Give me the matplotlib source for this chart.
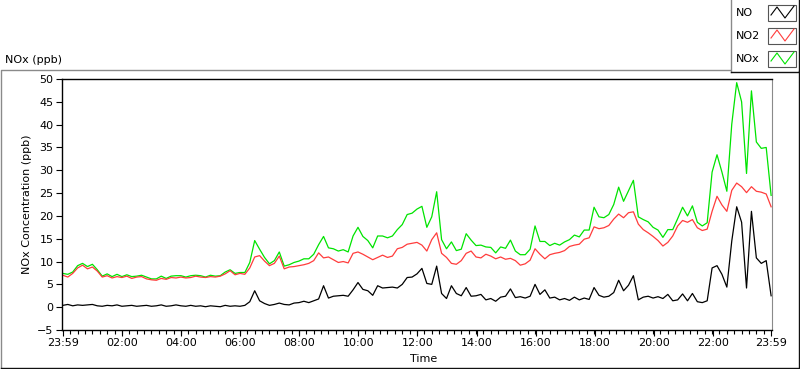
import numpy as np
import matplotlib.pyplot as plt
from matplotlib.lines import Line2D
from matplotlib.patches import Rectangle

# 10-minute samples starting at 23:59, values in ppb
no = [0.4, 0.6, 0.3, 0.5, 0.4, 0.5,
      0.6, 0.3, 0.2, 0.4, 0.3, 0.5,
      0.2, 0.3, 0.4, 0.2, 0.3, 0.4,
      0.2, 0.3, 0.5, 0.2, 0.3, 0.5,
      0.3, 0.2, 0.4, 0.2, 0.3, 0.1,
      0.3, 0.2, 0.1, 0.4, 0.2, 0.3,
      0.2, 0.4, 1.2, 3.6, 1.4, 0.8,
      0.4, 0.6, 0.9, 0.6, 0.5, 0.9,
      1.0, 1.3, 1.0, 1.4, 1.8, 4.7,
      2.0, 2.4, 2.5, 2.6, 2.4, 3.8,
      5.4, 3.9, 3.6, 2.6, 4.7, 4.2,
      4.3, 4.4, 4.2, 5.0, 6.5, 6.6,
      7.3, 8.5, 5.2, 5.0, 9.0, 3.0,
      1.9, 4.7, 3.0, 2.5, 4.3, 2.4,
      2.5, 2.8, 1.6, 1.9, 1.3, 2.2,
      2.4, 4.0, 2.1, 2.3, 2.0, 2.4,
      5.0, 2.8, 3.8, 2.0, 2.2, 1.6,
      1.9, 1.5, 2.2, 1.6, 2.0, 1.7,
      4.3, 2.6, 2.2, 2.4, 3.2, 5.9,
      3.6, 4.8, 6.9, 1.6, 2.2, 2.4,
      2.0, 2.3, 1.9, 2.8, 1.4, 1.6,
      2.9, 1.4, 3.0, 1.2, 1.0, 1.4,
      8.6, 9.1, 7.2, 4.4, 14.5, 22.0,
      18.6, 4.2, 21.0, 10.8, 9.6, 10.2,
      2.5]

no2 = [7.0, 6.6, 7.4, 8.6, 9.2, 8.4,
       8.8, 7.9, 6.6, 6.9, 6.4, 6.7,
       6.5, 6.8, 6.3, 6.6, 6.7, 6.2,
       6.0, 5.9, 6.3, 6.1, 6.5, 6.4,
       6.6, 6.4, 6.5, 6.8, 6.6, 6.5,
       6.7, 6.6, 6.8, 7.3, 8.0, 7.1,
       7.4, 7.2, 8.6, 11.0, 11.3, 10.1,
       9.1, 9.6, 11.2, 8.4, 8.8, 8.9,
       9.1, 9.3, 9.6, 10.2, 11.9, 10.8,
       11.0, 10.4, 9.8, 10.0, 9.7, 11.8,
       12.1, 11.6, 11.0, 10.4, 10.9, 11.4,
       10.9, 11.2, 12.8, 13.1, 13.8, 14.0,
       14.2, 13.6, 12.3, 14.8, 16.3, 11.8,
       10.9, 9.6, 9.4, 10.2, 11.8, 12.3,
       11.0, 10.8, 11.6, 11.2, 10.6, 11.0,
       10.5, 10.7, 10.2, 9.2, 9.5, 10.3,
       12.8, 11.6, 10.6, 11.5, 11.8, 12.0,
       12.4, 13.3, 13.6, 13.8, 14.9, 15.2,
       17.6, 17.2, 17.4, 17.9, 19.3, 20.4,
       19.6, 20.7, 20.9, 18.2, 17.0, 16.3,
       15.5, 14.6, 13.4, 14.2, 15.6, 17.8,
       19.0, 18.6, 19.2, 17.4, 16.8, 17.1,
       21.0, 24.3, 22.4, 21.0, 25.6, 27.2,
       26.4, 25.1, 26.4, 25.4, 25.2, 24.8,
       22.0]

nox = [7.4, 7.2, 7.7, 9.1, 9.6, 8.9,
       9.4, 8.2, 6.8, 7.3, 6.7, 7.2,
       6.7, 7.1, 6.7, 6.8, 7.0, 6.6,
       6.2, 6.2, 6.8, 6.3, 6.8, 6.9,
       6.9, 6.6, 6.9, 7.0, 6.9, 6.6,
       7.0, 6.8, 6.9, 7.7, 8.2, 7.4,
       7.6, 7.6, 9.8, 14.6, 12.7, 10.9,
       9.5, 10.2, 12.1, 9.0, 9.3, 9.8,
       10.1, 10.6, 10.6, 11.6, 13.7, 15.5,
       13.0, 12.8, 12.3, 12.6, 12.1, 15.6,
       17.5, 15.5, 14.6, 13.0, 15.6, 15.6,
       15.2, 15.6, 17.0, 18.1, 20.3, 20.6,
       21.5, 22.1, 17.5, 19.8, 25.3, 14.8,
       12.8, 14.3, 12.4, 12.7, 16.1, 14.7,
       13.5, 13.6, 13.2, 13.1, 11.9, 13.2,
       12.9, 14.7, 12.3, 11.5, 11.5, 12.7,
       17.8, 14.4, 14.4, 13.5, 14.0, 13.6,
       14.3, 14.8, 15.8, 15.4, 16.9, 16.9,
       21.9, 19.8, 19.6, 20.3, 22.5, 26.3,
       23.2, 25.5, 27.8, 19.8, 19.2, 18.7,
       17.5, 16.9, 15.3, 17.0, 17.0, 19.4,
       21.9, 20.0, 22.2, 18.6, 17.8, 18.5,
       29.6, 33.4, 29.6, 25.4, 40.1, 49.2,
       45.0, 29.3, 47.4, 36.2, 34.8, 35.0,
       24.5]

time_labels = ['23:59', '02:00', '04:00', '06:00', '08:00', '10:00', '12:00',
               '14:00', '16:00', '18:00', '20:00', '22:00', '23:59']

hours = np.arange(len(no)) / 6.0

W, H = 800, 369
fig = plt.figure(figsize=(W / 100, H / 100), dpi=100)
fig.patch.set_facecolor('white')


def px(x, y):
    return x / W, 1 - y / H


def fline(xs, ys, color, lw=1.0):
    pts = [px(a, b) for a, b in zip(xs, ys)]
    fig.add_artist(Line2D([p[0] for p in pts], [p[1] for p in pts],
                          transform=fig.transFigure, color=color, lw=lw))


# outer panel frame
fline([1, 1, 730], [368, 69.5, 69.5], '#8a8a8a')
fline([1, 799, 799], [368, 368, 71], '#111111')

# legend box
fline([730.5, 730.5], [72, 0], '#8a8a8a')
fline([730.5, 799, 799], [72, 72, 0], '#111111')
leg = [('NO', 'black', 13), ('NO2', '#ff3c3c', 36), ('NOx', '#00e400', 59)]
for name, col, yc in leg:
    fig.text(736 / W, 1 - yc / H, name, fontsize=8, va='center', ha='left')
    x0, y0 = px(768, yc - 8)
    x1, y1 = px(796, yc + 8)
    fig.add_artist(Rectangle((x0, y1), x1 - x0, y0 - y1, transform=fig.transFigure,
                             fill=False, ec='#555555', lw=0.8))
    fline([771, 777, 785, 794], [yc + 2, yc - 6, yc + 5, yc - 7], col, lw=0.8)

fig.text(5 / W, 1 - 60 / H, 'NOx (ppb)', fontsize=8, va='center', ha='left')

ax = fig.add_axes([62 / W, 1 - 330 / H, 710 / W, 251 / H])
ax.plot(hours, nox, color='#00e400', lw=0.9)
ax.plot(hours, no2, color='#ff3c3c', lw=0.9)
ax.plot(hours, no, color='black', lw=0.9)

ax.set_xlim(-0.03, 24.03)
ax.set_ylim(-5, 50)
ax.set_yticks(np.arange(-5, 51, 5))
major = [0] + [2 * i + 1 / 60 for i in range(1, 12)] + [24]
ax.set_xticks(major)
ax.set_xticklabels(time_labels)
ax.set_xticks(np.arange(0, 24.01, 0.25), minor=True)
ax.tick_params(axis='both', which='major', labelsize=8, length=4, width=0.8, pad=2)
ax.tick_params(axis='x', which='minor', length=3, width=0.8)
for s in ['left', 'top', 'bottom']:
    ax.spines[s].set_color('black')
    ax.spines[s].set_linewidth(1.0)
ax.spines['right'].set_color('#8a8a8a')
ax.set_ylabel('NOx Concentration (ppb)', fontsize=8, labelpad=4)
ax.set_xlabel('Time', fontsize=8)
ax.xaxis.set_label_coords((424 - 62) / 710, -0.095)

fig.savefig('out.png', dpi=100)
